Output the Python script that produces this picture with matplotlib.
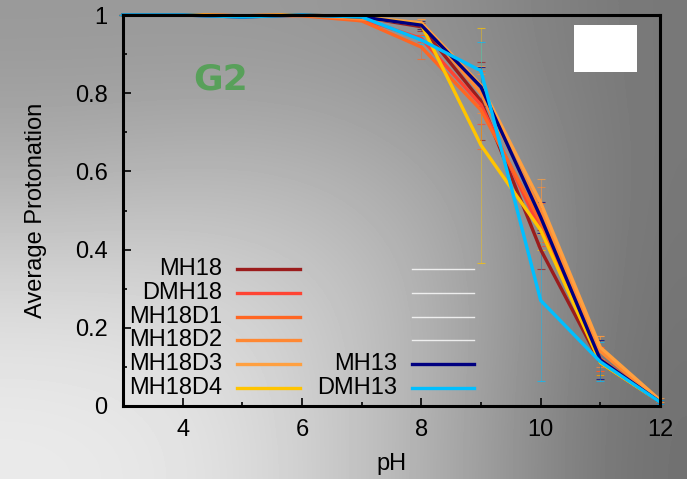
import numpy as np
import matplotlib
matplotlib.use("Agg")
from matplotlib import pyplot as plt
from matplotlib.patches import Rectangle

plt.rcParams['font.family'] = ['Liberation Sans', 'DejaVu Sans']

ph = [3, 4, 5, 6, 7, 8, 9, 10, 11, 12]

names = ['MH18', 'DMH18', 'MH18D1', 'MH18D2', 'MH18D3', 'MH18D4', 'MH13', 'DMH13']
colors = ['#9b1c1c', '#ff4433', '#ff6622', '#ff8833', '#ffa040', '#ffc400', '#000080', '#00bfff']

protonation = [
    [1.0, 1.0, 0.998, 1.0, 0.995, 0.97, 0.78, 0.40, 0.11, 0.01],
    [1.0, 1.0, 0.998, 1.0, 0.99, 0.94, 0.77, 0.45, 0.12, 0.01],
    [1.0, 1.0, 0.998, 0.998, 0.985, 0.918, 0.757, 0.47, 0.12, 0.01],
    [1.0, 1.0, 0.998, 1.0, 0.99, 0.98, 0.80, 0.50, 0.14, 0.01],
    [1.0, 1.0, 0.998, 1.0, 0.995, 0.98, 0.82, 0.52, 0.15, 0.015],
    [1.0, 1.0, 0.998, 1.0, 0.995, 0.975, 0.667, 0.45, 0.11, 0.01],
    [1.0, 1.0, 0.995, 1.0, 0.995, 0.974, 0.816, 0.483, 0.118, 0.01],
    [1.0, 1.0, 0.995, 1.0, 0.995, 0.936, 0.857, 0.27, 0.113, 0.01],
]

errors = [
    [0.0, 0.0, 0.0, 0.0, 0.0, 0.01, 0.10, 0.05, 0.03, 0.005],
    [0.0, 0.0, 0.0, 0.0, 0.0, 0.01, 0.05, 0.04, 0.03, 0.005],
    [0.0, 0.0, 0.0, 0.0, 0.0, 0.03, 0.10, 0.05, 0.03, 0.005],
    [0.0, 0.0, 0.0, 0.0, 0.0, 0.01, 0.05, 0.06, 0.04, 0.005],
    [0.0, 0.0, 0.0, 0.0, 0.0, 0.01, 0.05, 0.06, 0.03, 0.005],
    [0.0, 0.0, 0.0, 0.0, 0.0, 0.01, 0.30, 0.05, 0.03, 0.005],
    [0.0, 0.0, 0.0, 0.0, 0.0, 0.01, 0.05, 0.04, 0.05, 0.005],
    [0.0, 0.0, 0.0, 0.0, 0.0, 0.01, 0.075, 0.205, 0.05, 0.005],
]

# background gradient (gray levels on a coarse grid, top row first)
bg_levels = np.array([
    [153, 153, 152, 140, 119],
    [178, 185, 180, 160, 118],
    [218, 215, 200, 165, 115],
    [235, 228, 200, 160, 112],
]) / 255.0

fig = plt.figure(figsize=(6.87, 4.79), dpi=100)

bg = fig.add_axes([0, 0, 1, 1], zorder=-10)
bg.imshow(bg_levels, cmap='gray', vmin=0, vmax=1, aspect='auto',
          interpolation='bicubic', extent=[0, 1, 0, 1])
bg.axis('off')

ax = fig.add_axes([123 / 687, 73 / 479, 537 / 687, 391 / 479])
ax.patch.set_alpha(0)

for name, color, y, err in zip(names, colors, protonation, errors):
    lines = ax.errorbar(ph, y, yerr=err, color=color, linewidth=2.4,
                        elinewidth=0.6, capsize=3, capthick=0.8, clip_on=False)
    for bar in lines[2]:
        bar.set_alpha(0.5)
    for cap in lines[1]:
        cap.set_alpha(0.7)

ax.set_xlim(3, 12)
ax.set_ylim(0, 1)
ax.set_xticks([4, 6, 8, 10, 12])
ax.set_xticks([3, 5, 7, 9, 11], minor=True)
ax.set_yticks([0, 0.2, 0.4, 0.6, 0.8, 1.0])
ax.set_yticklabels(['0', '0.2', '0.4', '0.6', '0.8', '1'])
ax.set_yticks([0.1, 0.3, 0.5, 0.7, 0.9], minor=True)
ax.tick_params(which='both', direction='in', labelsize=17, width=1.2)
ax.tick_params(which='major', length=6)
ax.tick_params(which='minor', length=3)
ax.tick_params(axis='y', pad=11)
ax.tick_params(axis='x', pad=9)
for side in ax.spines.values():
    side.set_linewidth(2.2)
    side.set_zorder(5)

ax.set_xlabel('pH', fontsize=17, labelpad=9)
ax.set_ylabel('Average Protonation', fontsize=17, labelpad=20)

ax.text(0.13, 0.81, 'G2', transform=ax.transAxes, fontsize=26,
        fontweight='bold', color='#58a05a', family='DejaVu Sans')

ax.add_patch(Rectangle((0.84, 0.855), 0.118, 0.12, transform=ax.transAxes,
                       facecolor='white', edgecolor='none', zorder=6))

# legend drawn by hand: labels right-aligned left of the sample lines
rows = [0.350, 0.289, 0.228, 0.169, 0.107, 0.046]
for i in range(6):
    ax.text(0.184, rows[i], names[i], transform=ax.transAxes, fontsize=17,
            ha='right', va='center')
    ax.plot([0.212, 0.330], [rows[i], rows[i]], transform=ax.transAxes,
            color=colors[i], linewidth=2.4)
for i in range(4):
    ax.plot([0.538, 0.654], [rows[i], rows[i]], transform=ax.transAxes,
            color='white', linewidth=1, alpha=0.8)
for i in range(2):
    ax.text(0.510, rows[4 + i], names[6 + i], transform=ax.transAxes,
            fontsize=17, ha='right', va='center')
    ax.plot([0.538, 0.654], [rows[4 + i], rows[4 + i]], transform=ax.transAxes,
            color=colors[6 + i], linewidth=2.4)

fig.savefig('out.png', dpi=100)
